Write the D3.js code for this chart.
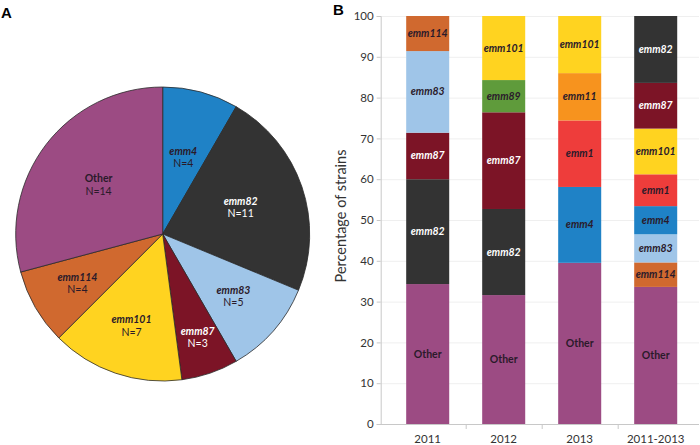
<!DOCTYPE html>
<html><head><meta charset="utf-8">
<script src="https://cdn.jsdelivr.net/npm/d3@7"></script>
<style>body{margin:0;background:#fff;} svg{display:block;font-family:Lato,"Open Sans",sans-serif;}</style>
</head><body>
<svg id="c" width="700" height="445"></svg>
<script>
// ---- Data: Panel A (pie) ----
const pieCategories = ["emm4","emm82","emm83","emm87","emm101","emm114","Other"];
const pieCounts     = [4, 11, 5, 3, 7, 4, 14];

// ---- Data: Panel B (stacked bars, % of strains, bottom to top) ----
const years = ["2011","2012","2013","2011-2013"];
const barTypes2011 = ["Other","emm82","emm87","emm83","emm114"];
const barVals2011  = [34.3, 25.7, 11.4, 20.0, 8.6];
const barTypes2012 = ["Other","emm82","emm87","emm89","emm101"];
const barVals2012  = [31.6, 21.1, 23.7, 7.9, 15.7];
const barTypes2013 = ["Other","emm4","emm1","emm11","emm101"];
const barVals2013  = [39.5, 18.6, 16.3, 11.6, 14.0];
const barTypesAll  = ["Other","emm114","emm83","emm4","emm1","emm101","emm87","emm82"];
const barValsAll   = [33.6, 6.0, 6.9, 6.9, 7.8, 11.2, 11.2, 16.4];
const yTicks = [0,10,20,30,40,50,60,70,80,90,100];

// ---- Styles ----
const colors = {
  "Other":"#9C4B83","emm4":"#1F82C6","emm82":"#333333","emm83":"#9FC5E8",
  "emm87":"#7C1426","emm101":"#FFD320","emm114":"#D0692F","emm89":"#5F9B3B",
  "emm1":"#EE3D3B","emm11":"#F7931E"
};
const whiteText = new Set(["emm82","emm87"]);
const textDark = "#2a1a2a";
// pie label distance from centre, as a fraction of the radius ("best fit" placement)
const pieLabelFrac = {"emm4":0.54,"emm82":0.56,"emm83":0.64,"emm87":0.74,"emm101":0.66,"emm114":0.67,"Other":0.55};

const svg = d3.select("#c");

// Panel letters
svg.append("text").attr("x",1).attr("y",18).attr("font-size",15).attr("font-weight","bold")
  .attr("font-family","Liberation Sans, Arial, sans-serif").text("A");
svg.append("text").attr("x",333).attr("y",15).attr("font-size",15).attr("font-weight","bold")
  .attr("font-family","Liberation Sans, Arial, sans-serif").text("B");

// ---- Panel A: pie ----
const R = 147;
const pieG = svg.append("g").attr("transform","translate(162.7,234)");
const pieData = d3.pie().sort(null).value(d=>d.v)(pieCategories.map((c,i)=>({c, v:pieCounts[i]})));
const arc = d3.arc().innerRadius(0).outerRadius(R);
pieG.selectAll("path").data(pieData).join("path")
  .attr("d",arc).attr("fill",d=>colors[d.data.c])
  .attr("stroke","#2b2b2b").attr("stroke-width",0.8);
const lg = pieG.selectAll("g.lbl").data(pieData).join("g").attr("class","lbl")
  .attr("transform",d=>{const a=(d.startAngle+d.endAngle)/2, r=pieLabelFrac[d.data.c]*R;
     return `translate(${r*Math.sin(a)},${-r*Math.cos(a)})`;});
lg.append("text").attr("y",-2.5).attr("text-anchor","middle").attr("font-size",10.5)
  .attr("font-weight","bold").attr("font-style",d=>d.data.c==="Other"?"normal":"italic")
  .attr("fill",d=>whiteText.has(d.data.c)?"#fff":textDark).text(d=>d.data.c);
lg.append("text").attr("y",9.8).attr("text-anchor","middle").attr("font-size",10.5)
  .attr("fill",d=>whiteText.has(d.data.c)?"#fff":textDark).text(d=>"N="+d.data.v);

// ---- Panel B: stacked bars ----
const barSets = [
  {year:years[0], types:barTypes2011, vals:barVals2011},
  {year:years[1], types:barTypes2012, vals:barVals2012},
  {year:years[2], types:barTypes2013, vals:barVals2013},
  {year:years[3], types:barTypesAll,  vals:barValsAll}
];
const axisX = 380.7, plotTop = 16, plotBottom = 424, plotRight = 699;
const x = d3.scaleBand().domain(years).range([389.7,693.7]).paddingInner(0.434).paddingOuter(0.217);
const xb = d3.scaleBand().domain(years).range([389.7,693.7]).padding(0);
const y = d3.scaleLinear().domain([0,100]).range([plotBottom,plotTop]);

const gB = svg.append("g");
// grid
gB.selectAll("line.grid").data(yTicks).join("line")
  .attr("x1",axisX).attr("x2",plotRight).attr("y1",d=>y(d)+0.5).attr("y2",d=>y(d)+0.5)
  .attr("stroke","#efefef").attr("stroke-width",1);

// y axis
const yAxis = gB.append("g").attr("transform",`translate(${axisX},0)`)
  .call(d3.axisLeft(y).tickValues(yTicks).tickSize(4).tickPadding(3));
yAxis.select(".domain").attr("stroke","#c8c8c8");
yAxis.selectAll(".tick line").attr("stroke","#c8c8c8");
yAxis.selectAll(".tick text").attr("font-size",11.5).attr("fill","#333").attr("font-family","Lato, sans-serif");

// x axis
const xAxisG = gB.append("g").attr("transform",`translate(0,${plotBottom})`);
xAxisG.append("line").attr("x1",axisX).attr("x2",plotRight).attr("y1",0.5).attr("y2",0.5).attr("stroke","#c8c8c8");
xAxisG.selectAll("line.tk").data(years.slice(1)).join("line")
  .attr("x1",d=>xb(d)+0.5).attr("x2",d=>xb(d)+0.5).attr("y1",0).attr("y2",5).attr("stroke","#c8c8c8");
xAxisG.selectAll("text").data(years).join("text")
  .attr("x",d=>x(d)+x.bandwidth()/2).attr("y",19).attr("text-anchor","middle")
  .attr("font-size",11.5).attr("fill","#333").text(d=>d);

// y title
svg.append("text").attr("transform","translate(346,216) rotate(-90)").attr("text-anchor","middle")
  .attr("font-size",14.5).attr("fill","#333").text("Percentage of strains");

// bars
barSets.forEach(set=>{
  let cum = 0;
  const segs = set.types.map((t,i)=>{const s={t, y0:cum, y1:cum+set.vals[i]}; cum += set.vals[i]; return s;});
  const g = gB.append("g");
  g.selectAll("rect").data(segs).join("rect")
    .attr("x",x(set.year)).attr("width",x.bandwidth())
    .attr("y",d=>y(Math.min(d.y1,100))).attr("height",d=>y(d.y0)-y(Math.min(d.y1,100)))
    .attr("fill",d=>colors[d.t]);
  g.selectAll("text").data(segs).join("text")
    .attr("x",x(set.year)+x.bandwidth()/2).attr("y",d=>y((d.y0+d.y1)/2)+3.5)
    .attr("text-anchor","middle").attr("font-size",10.5).attr("font-weight","bold")
    .attr("font-style",d=>d.t==="Other"?"normal":"italic")
    .attr("fill",d=>whiteText.has(d.t)?"#fff":textDark).text(d=>d.t);
});
</script>
</body></html>
